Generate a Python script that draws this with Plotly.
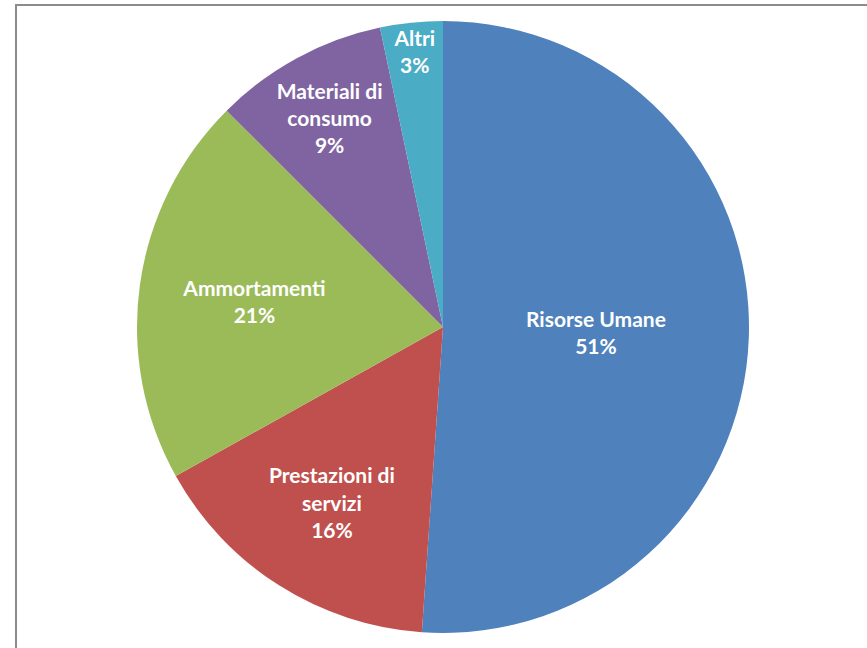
import plotly.graph_objects as go

categories = ["Risorse Umane", "Prestazioni di<br>servizi", "Ammortamenti", "Materiali di<br>consumo", "Altri"]
values = [51.1, 15.8, 20.6, 9.2, 3.3]
colors = ["#4F81BD", "#C0504D", "#9BBB59", "#8064A2", "#4BACC6"]

W, H = 867, 648
cx, cy, r = 443, 327, 306

fig = go.Figure(go.Pie(
    labels=categories,
    values=values,
    sort=False,
    direction="clockwise",
    rotation=0,
    marker=dict(colors=colors, line=dict(width=0)),
    texttemplate="%{label}<br>%{percent:.0%}",
    textposition="inside",
    insidetextorientation="horizontal",
    textfont=dict(family="Lato", size=21, color="white", weight="bold"),
    hoverinfo="skip",
    showlegend=False,
    domain=dict(x=[(cx - r) / W, (cx + r) / W], y=[1 - (cy + r) / H, 1 - (cy - r) / H]),
))

fig.update_layout(
    width=W, height=H,
    margin=dict(l=0, r=0, t=0, b=0),
    paper_bgcolor="white",
    uniformtext=dict(minsize=21, mode="show"),
    shapes=[dict(type="rect", xref="paper", yref="paper",
                 x0=16 / W, x1=1.05, y0=-0.05, y1=1 - 5 / H,
                 line=dict(color="#8c8c8c", width=2), fillcolor="rgba(0,0,0,0)", layer="below")],
)

fig.write_html("out.html")
